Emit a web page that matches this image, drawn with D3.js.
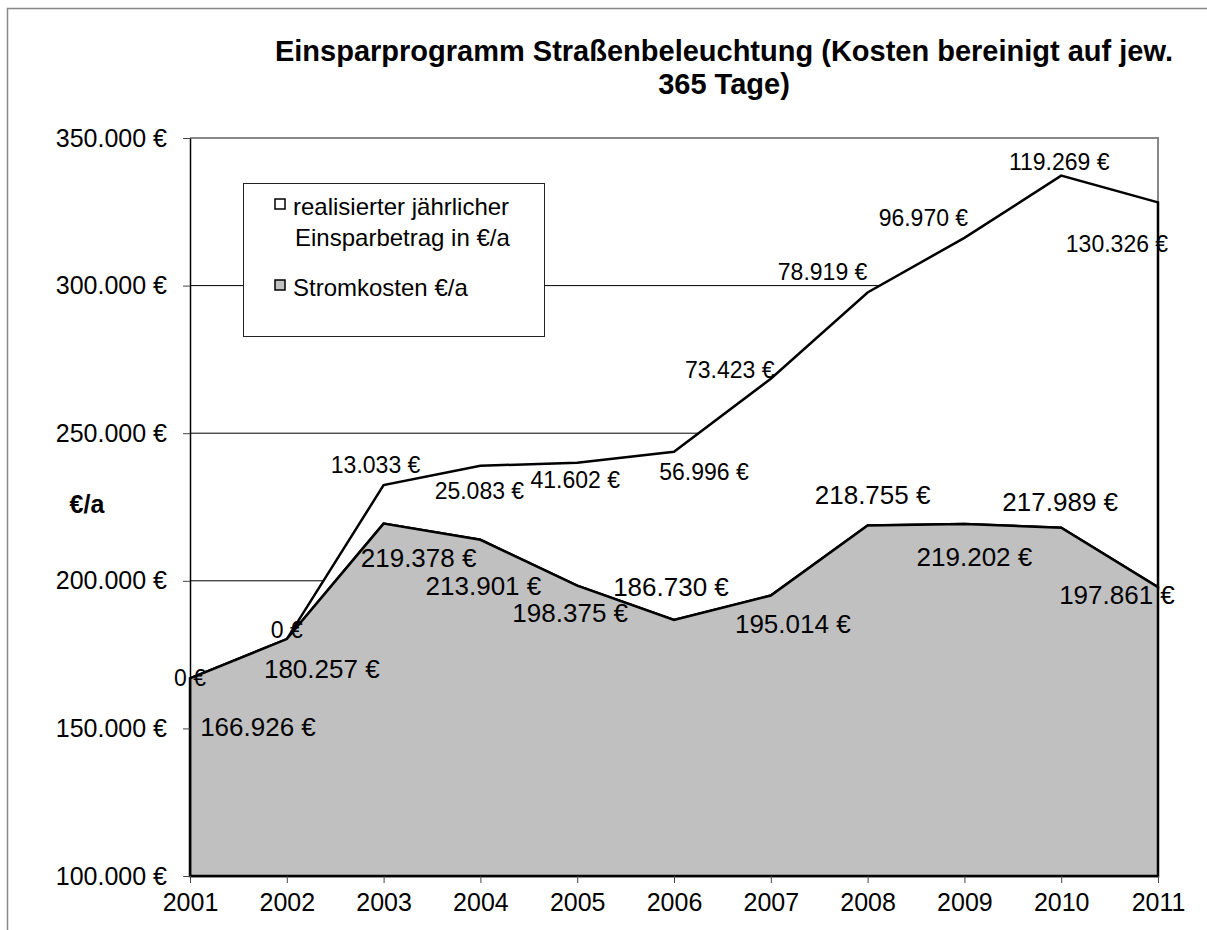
<!DOCTYPE html>
<html lang="de">

<head>
  <meta charset="UTF-8" />
  <meta name="viewport" content="width=device-width, initial-scale=1.0" />
  <title>Einsparprogramm Straßenbeleuchtung</title>
  <style>
    body { margin: 0; background: #fff; }
    text { font-family: "Liberation Sans", Arial, sans-serif; fill: #000; }
  </style>
</head>

<body>

  <div id="chart"></div>

  <script src="https://d3js.org/d3.v7.min.js"></script>

  <script>

    // data
    const years = [2001, 2002, 2003, 2004, 2005, 2006, 2007, 2008, 2009, 2010, 2011];
    const stromkosten = [166926, 180257, 219378, 213901, 198375, 186730, 195014, 218755, 219202, 217989, 197861];
    const einsparung = [0, 0, 13033, 25083, 41602, 56996, 73423, 78919, 96970, 119269, 130326];
    const yTickValues = [100000, 150000, 200000, 250000, 300000, 350000];
    const legendLabels = [["realisierter jährlicher", "Einsparbetrag in €/a"], ["Stromkosten €/a"]];

    // label nudges in px, relative to the data point
    const stromLabelNudge = [[68, 49], [35, 30], [35, 34], [3, 46], [-7, 27], [-3, -33], [22, 28], [5, -30], [10, 33], [-1, -26], [-41, 8]];
    const sparLabelNudge = [[0, 0], [0, -9], [-8, -20], [-1, 25], [-2, 17], [30, 20], [-41, -9], [-45, -20], [-41, -20], [-2, -14], [-41, 42]];

    const W = 1207, H = 930;
    const plotLeft = 190, plotRight = 1158, plotTop = 138, plotBottom = 876;

    const euro = d3.formatLocale({ decimal: ",", thousands: ".", grouping: [3], currency: ["", " €"] }).format("$,.0f");

    const rows = years.map(function (yr, i) {
      return { year: yr, strom: stromkosten[i], spar: einsparung[i] };
    });
    const stacked = d3.stack().keys(["strom", "spar"])(rows);

    const x = d3.scaleLinear().domain([2001, 2011]).range([plotLeft, plotRight]);
    const y = d3.scaleLinear().domain([100000, 350000]).range([plotBottom, plotTop]).clamp(true);

    const svg = d3.select("#chart").append("svg")
      .attr("width", W)
      .attr("height", H);

    // outer chart border
    svg.append("path")
      .attr("d", "M7.5," + H + "V8.5H" + W)
      .attr("fill", "none")
      .attr("stroke", "#888")
      .attr("stroke-width", 1.5);

    // title
    const title = svg.append("text")
      .attr("text-anchor", "middle")
      .attr("font-weight", "bold")
      .attr("font-size", 29);
    title.append("tspan").attr("x", 724).attr("y", 61).text("Einsparprogramm Straßenbeleuchtung (Kosten bereinigt auf jew.");
    title.append("tspan").attr("x", 724).attr("y", 94).text("365 Tage)");

    // gridlines
    svg.append("g").selectAll("line")
      .data(yTickValues.slice(1, -1))
      .enter().append("line")
      .attr("x1", plotLeft).attr("x2", plotRight)
      .attr("y1", function (d) { return y(d); })
      .attr("y2", function (d) { return y(d); })
      .attr("stroke", "#000")
      .attr("stroke-width", 1);

    // plot border top + right
    svg.append("path")
      .attr("d", "M" + plotLeft + "," + plotTop + "H" + plotRight + "V" + plotBottom)
      .attr("fill", "none")
      .attr("stroke", "#888")
      .attr("stroke-width", 2);

    const area = d3.area()
      .x(function (d) { return x(d.data.year); })
      .y0(function (d) { return y(d[0]); })
      .y1(function (d) { return y(d[1]); });

    // savings on top (white), then electricity costs (grey)
    svg.append("path")
      .datum(stacked[1])
      .attr("d", function (d) { return area(d) + "Z"; })
      .attr("fill", "#fff")
      .attr("stroke", "#000")
      .attr("stroke-width", 2.5);

    svg.append("path")
      .datum(stacked[0])
      .attr("d", function (d) { return area(d) + "Z"; })
      .attr("fill", "#c0c0c0")
      .attr("stroke", "#000")
      .attr("stroke-width", 2.5);

    // axes
    const yAxis = svg.append("g")
      .attr("transform", "translate(" + plotLeft + ",0)")
      .call(d3.axisLeft(y).tickValues(yTickValues).tickFormat(euro).tickSize(7).tickPadding(16).tickSizeOuter(0));
    yAxis.selectAll("text").attr("font-size", 25).style("font-family", "'Liberation Sans', Arial, sans-serif");

    const xAxis = svg.append("g")
      .attr("transform", "translate(0," + plotBottom + ")")
      .call(d3.axisBottom(x).tickValues(years).tickFormat(d3.format("d")).tickSize(7).tickPadding(10).tickSizeOuter(0));
    xAxis.selectAll("text").attr("font-size", 25).style("font-family", "'Liberation Sans', Arial, sans-serif");

    svg.selectAll(".domain").attr("stroke", "#000").attr("stroke-width", 1.5);
    svg.selectAll(".tick line").attr("stroke", "#444");

    svg.append("text")
      .attr("x", 87)
      .attr("y", 513)
      .attr("text-anchor", "middle")
      .attr("font-weight", "bold")
      .attr("font-size", 25)
      .text("€/a");

    // data labels
    svg.append("g").selectAll("text")
      .data(stacked[0])
      .enter().append("text")
      .attr("x", function (d, i) { return x(d.data.year) + stromLabelNudge[i][0]; })
      .attr("y", function (d, i) { return y(d[1]) + stromLabelNudge[i][1]; })
      .attr("text-anchor", "middle")
      .attr("dominant-baseline", "central")
      .attr("font-size", 26)
      .text(function (d) { return euro(d.data.strom); });

    svg.append("g").selectAll("text")
      .data(stacked[1])
      .enter().append("text")
      .attr("x", function (d, i) { return x(d.data.year) + sparLabelNudge[i][0]; })
      .attr("y", function (d, i) { return y(d[1]) + sparLabelNudge[i][1]; })
      .attr("text-anchor", "middle")
      .attr("dominant-baseline", "central")
      .attr("font-size", 23)
      .text(function (d) { return euro(d.data.spar); });

    // legend
    const legend = svg.append("g");
    legend.append("rect")
      .attr("x", 243.5).attr("y", 183.5)
      .attr("width", 301).attr("height", 153)
      .attr("fill", "#fff")
      .attr("stroke", "#222")
      .attr("stroke-width", 1);

    const swatchFill = ["#fff", "#c0c0c0"];
    const entryY = [215, 296];
    legendLabels.forEach(function (lines, i) {
      legend.append("rect")
        .attr("x", 275).attr("y", entryY[i] - 16)
        .attr("width", 10).attr("height", 10)
        .attr("fill", swatchFill[i])
        .attr("stroke", "#000")
        .attr("stroke-width", 1.5);
      lines.forEach(function (t, j) {
        legend.append("text")
          .attr("x", j == 0 ? 293 : 295)
          .attr("y", entryY[i] + j * 31)
          .attr("font-size", 24)
          .text(t);
      });
    });

  </script>
</body>

</html>
